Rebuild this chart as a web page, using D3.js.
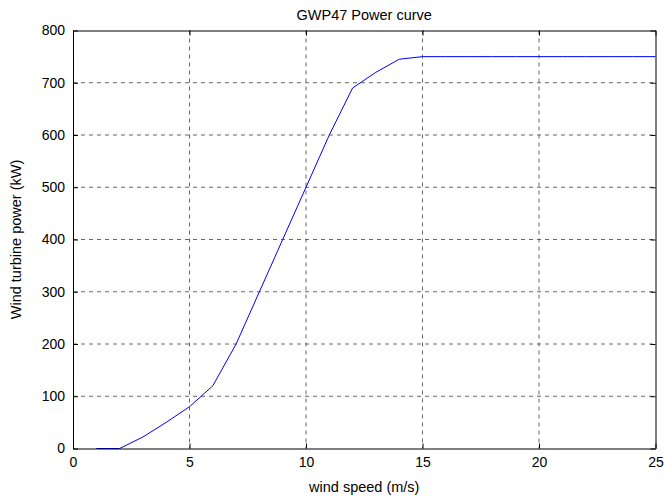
<!DOCTYPE html>
<html><head><meta charset="utf-8">
<script src="https://cdn.jsdelivr.net/npm/d3@7"></script>
<style>body{margin:0;background:#fff}text{font-family:"Liberation Sans",Arial,sans-serif}</style>
</head><body>
<svg id="c" width="664" height="500"></svg>
<script>
const windSpeed = [1,2,3,4,5,6,7,8,9,10,11,12,13,14,15,16,17,18,19,20,21,22,23,24,25];
const power = [0,0,22,50,80,120,200,300,400,500,600,690,720,745,750,750,750,750,750,750,750,750,750,750,750];
const xTicks = [0,5,10,15,20,25];
const yTicks = [0,100,200,300,400,500,600,700,800];
const title = "GWP47 Power curve";
const xLabel = "wind speed (m/s)";
const yLabel = "Wind turbine power (kW)";

const svg = d3.select("#c");
const L = 73, R = 655.5, T = 30.5, B = 448.5;
const x = d3.scaleLinear().domain([0,25]).range([L,R]);
const y = d3.scaleLinear().domain([0,800]).range([B,T]);

svg.append("rect").attr("width",664).attr("height",500).attr("fill","#fff");

const g = svg.append("g");
g.selectAll(".gx").data(xTicks.slice(1,-1)).enter().append("line")
  .attr("x1",d=>x(d)).attr("x2",d=>x(d)).attr("y1",T).attr("y2",B)
  .attr("stroke","#666").attr("stroke-width",1).attr("stroke-dasharray","4,4");
g.selectAll(".gy").data(yTicks.slice(1,-1)).enter().append("line")
  .attr("y1",d=>y(d)).attr("y2",d=>y(d)).attr("x1",L).attr("x2",R)
  .attr("stroke","#666").attr("stroke-width",1).attr("stroke-dasharray","4,4");

svg.append("path").datum(windSpeed.map((w,i)=>[w,power[i]]))
  .attr("fill","none").attr("stroke","#0000ff").attr("stroke-width",1)
  .attr("d", d3.line().x(d=>x(d[0])).y(d=>y(d[1])));

const ax = d3.axisBottom(x).tickValues(xTicks).tickSizeInner(-5).tickSizeOuter(0).tickPadding(9);
const axT = d3.axisTop(x).tickValues(xTicks).tickSizeInner(-5).tickSizeOuter(0).tickFormat("");
const ay = d3.axisLeft(y).tickValues(yTicks).tickSizeInner(-5).tickSizeOuter(0).tickPadding(8);
const ayR = d3.axisRight(y).tickValues(yTicks).tickSizeInner(-5).tickSizeOuter(0).tickFormat("");
function style(sel){
  sel.selectAll("path").attr("stroke","#000");
  sel.selectAll("line").attr("stroke","#000");
  sel.selectAll("text").attr("font-family","Liberation Sans, Arial, sans-serif").attr("font-size",14).attr("fill","#000");
}
svg.append("g").attr("transform",`translate(0,${B})`).call(ax).call(style);
svg.append("g").attr("transform",`translate(0,${T})`).call(axT).call(style);
svg.append("g").attr("transform",`translate(${L},0)`).call(ay).call(style);
svg.append("g").attr("transform",`translate(${R},0)`).call(ayR).call(style);

svg.append("text").attr("x",(L+R)/2).attr("y",19.5).attr("text-anchor","middle")
  .attr("font-size",14.5).text(title);
svg.append("text").attr("x",(L+R)/2).attr("y",492).attr("text-anchor","middle")
  .attr("font-size",14.5).text(xLabel);
svg.append("text").attr("transform",`translate(21,${(T+B)/2}) rotate(-90)`).attr("text-anchor","middle")
  .attr("font-size",14.5).text(yLabel);
</script>
</body></html>
